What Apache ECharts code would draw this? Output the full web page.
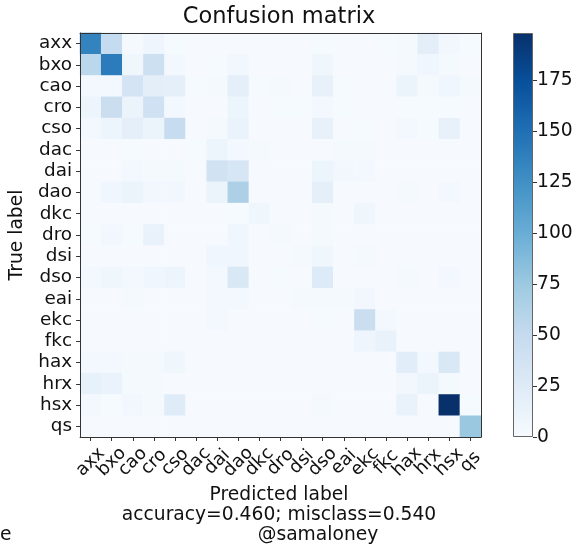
<!DOCTYPE html>
<html>
<head>
<meta charset="utf-8">
<script src="https://cdn.jsdelivr.net/npm/echarts@6/dist/echarts.min.js"></script>
<style>html,body{margin:0;padding:0;background:#fff;}#c{width:578px;height:546px;}</style>
</head>
<body>
<div id="c"></div>
<script>
const categories = ['axx','bxo','cao','cro','cso','dac','dai','dao','dkc','dro','dsi','dso','eai','ekc','fkc','hax','hrx','hsx','qs'];
// rows = true label, columns = predicted label
const counts = [
  [135, 50,  3,  9,  2, 1,  1,  1, 1, 1, 1,  2, 1,  1,  2,  3, 20,  6,  2],
  [ 56,140,  8, 42,  4, 1,  2,  6, 1, 1, 1,  8, 1,  1,  1,  3,  7,  3,  1],
  [  4,  5, 35, 20, 18, 2,  3, 18, 2, 3, 1, 15, 2,  1,  1, 12,  3,  7,  3],
  [ 10, 45, 12, 40,  4, 1,  1, 10, 1, 2, 2,  4, 2,  1,  1,  2,  2,  2,  1],
  [  5, 10, 18, 11, 48, 1,  3, 13, 1, 1, 1, 15, 1,  2,  1,  4,  2, 15,  1],
  [  1,  1,  2,  1,  1, 2, 10,  4, 3, 1, 1,  1, 3,  3,  1,  1,  1,  1,  1],
  [  1,  1,  5,  3,  3, 1, 38, 32, 1, 1, 1, 10, 6,  4,  1,  1,  1,  1,  1],
  [  1,  7, 12,  6,  6, 1, 12, 65, 1, 1, 1, 18, 1,  1,  1,  3,  1,  4,  1],
  [  1,  1,  1,  1,  1, 1,  1,  2, 8, 1, 1,  3, 1,  8,  1,  1,  1,  1,  1],
  [  2,  6,  2, 14,  1, 1,  1,  7, 1, 3, 1,  3, 1,  1,  1,  1,  1,  1,  1],
  [  1,  1,  1,  1,  1, 1,  7,  7, 1, 1, 3,  8, 1,  3,  1,  1,  1,  1,  1],
  [  4,  8,  5,  7, 10, 1,  4, 30, 1, 2, 1, 26, 1,  1,  1,  3,  1,  4,  1],
  [  1,  1,  3,  1,  1, 1,  5,  5, 1, 1, 3,  3, 3,  6,  1,  1,  1,  1,  1],
  [  1,  1,  1,  1,  1, 1,  4,  1, 1, 1, 1,  2, 1, 45,  4,  1,  1,  1,  1],
  [  1,  1,  1,  1,  1, 1,  1,  1, 1, 1, 1,  1, 1,  9, 14,  1,  1,  1,  1],
  [  4,  4,  3,  3,  8, 1,  1,  1, 1, 1, 1,  1, 1,  1,  1, 22,  4, 30,  1],
  [ 16, 13,  3,  3,  1, 1,  1,  1, 1, 1, 1,  1, 1,  1,  1,  6, 12,  3,  1],
  [  4,  2,  6,  3, 24, 1,  1,  1, 1, 1, 1,  3, 1,  1,  1, 14,  1,198,  2],
  [  1,  1,  1,  1,  1, 1,  1,  1, 1, 1, 1,  1, 1,  1,  1,  1,  1,  1, 76]
];
const colorbarTicks = [0, 25, 50, 75, 100, 125, 150, 175];
const blues = ['#f7fbff','#deebf7','#c6dbef','#9ecae1','#6baed6','#4292c6','#2171b5','#08519c','#08306b'];
const titleText = 'Confusion matrix';
const xName = 'Predicted label';
const statsText = 'accuracy=0.460; misclass=0.540';
const yName = 'True label';

const vmax = Math.max(...counts.flat());
const heatData = [];
counts.forEach((row, r) => row.forEach((v, c) => heatData.push([c, r, v])));

const FONT = 'DejaVu Sans';
const txt = '#111';
const FS = 18.7;

const chart = echarts.init(document.getElementById('c'), null, {renderer: 'canvas'});
chart.setOption({
  animation: false,
  backgroundColor: '#fff',
  textStyle: {fontFamily: FONT},
  title: [
    {text: titleText, left: 279, top: 6, textAlign: 'center', padding: 0,
     textStyle: {fontSize: 22.5, fontWeight: 'normal', color: txt, fontFamily: FONT}},
    {text: xName, left: 279, top: 486, textAlign: 'center', padding: 0,
     textStyle: {fontSize: FS, fontWeight: 'normal', color: txt, fontFamily: FONT}},
    {text: statsText, left: 279, top: 506, textAlign: 'center', padding: 0,
     textStyle: {fontSize: FS, fontWeight: 'normal', color: txt, fontFamily: FONT}},
    {text: '@samaloney', left: 318, top: 526, textAlign: 'center', padding: 0,
     textStyle: {fontSize: FS, fontWeight: 'normal', color: txt, fontFamily: FONT}},
    {text: 'e', left: 0, top: 526, padding: 0,
     textStyle: {fontSize: FS, fontWeight: 'normal', color: txt, fontFamily: FONT}}
  ],
  grid: [
    {left: 77, top: 33, width: 404, height: 404},
    {left: 513, top: 33, width: 20, height: 404}
  ],
  xAxis: [
    {type: 'category', gridIndex: 0, data: categories, position: 'bottom', z: 10,
     axisLine: {show: true, lineStyle: {color: '#333', width: 1}},
     axisTick: {show: true, alignWithLabel: true, length: 4, lineStyle: {color: '#333'}},
     axisLabel: {rotate: 45, fontSize: 18, color: txt, fontFamily: FONT, align: 'center', verticalAlign: 'middle', margin: 25, interval: 0},
     splitLine: {show: false}},
    {type: 'category', gridIndex: 0, data: categories, position: 'top', z: 10,
     axisLine: {show: true, lineStyle: {color: '#333', width: 1}},
     axisTick: {show: false}, axisLabel: {show: false}, splitLine: {show: false}},
    {type: 'category', gridIndex: 1, data: ['c'],
     axisLine: {show: false}, axisTick: {show: false}, axisLabel: {show: false}, splitLine: {show: false}}
  ],
  yAxis: [
    {type: 'category', gridIndex: 0, data: categories, inverse: true, position: 'left', z: 10,
     axisLine: {show: true, lineStyle: {color: '#333', width: 1}},
     axisTick: {show: true, alignWithLabel: true, length: 4, lineStyle: {color: '#333'}},
     axisLabel: {fontSize: 18.4, color: txt, fontFamily: FONT, margin: 8, interval: 0},
     name: yName, nameLocation: 'middle', nameRotate: 90, nameGap: 50,
     nameTextStyle: {fontSize: FS, color: txt, fontFamily: FONT},
     splitLine: {show: false}},
    {type: 'category', gridIndex: 0, data: categories, inverse: true, position: 'right', z: 10,
     axisLine: {show: true, lineStyle: {color: '#333', width: 1}},
     axisTick: {show: false}, axisLabel: {show: false}, splitLine: {show: false}},
    {type: 'value', gridIndex: 1, min: 0, max: vmax, position: 'right',
     axisLine: {show: false},
     axisTick: {show: true, length: 4, customValues: colorbarTicks, lineStyle: {color: '#333'}},
     axisLabel: {show: true, fontSize: FS, color: txt, fontFamily: FONT, margin: 4, customValues: colorbarTicks},
     splitLine: {show: false}}
  ],
  visualMap: {
    type: 'continuous', show: false, min: 0, max: vmax, seriesIndex: 0, dimension: 2,
    inRange: {color: blues}
  },
  series: [
    {type: 'heatmap', xAxisIndex: 0, yAxisIndex: 0, data: heatData,
     itemStyle: {borderWidth: 0}, emphasis: {disabled: true}, silent: true},
    {type: 'bar', xAxisIndex: 2, yAxisIndex: 2, data: [vmax], barWidth: '100%', silent: true,
     itemStyle: {
       borderColor: '#666', borderWidth: 1,
       color: new echarts.graphic.LinearGradient(0, 0, 0, 1,
         blues.slice().reverse().map((c, i) => ({offset: i / (blues.length - 1), color: c})))
     }}
  ]
});
</script>
</body>
</html>
